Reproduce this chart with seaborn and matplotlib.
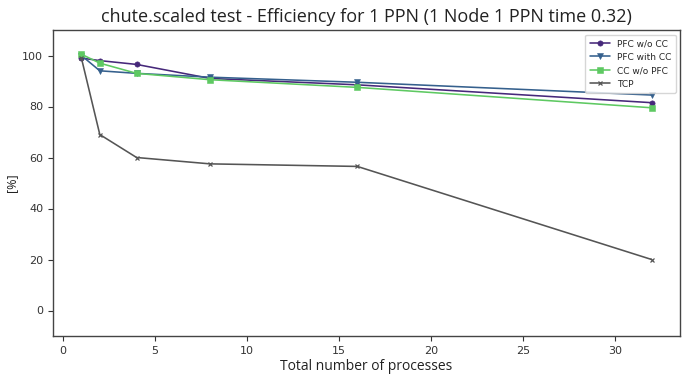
import matplotlib
matplotlib.use("Agg")
import matplotlib.pyplot as plt
import seaborn as sns
import pandas as pd

processes = [1, 2, 4, 8, 16, 32]
pfc_wo_cc = [99.0, 98.0, 96.5, 91.0, 88.5, 81.5]
pfc_with_cc = [100.0, 94.0, 93.0, 91.5, 89.5, 84.5]
cc_wo_pfc = [100.5, 97.0, 93.0, 90.5, 87.5, 79.5]
tcp = [99.0, 69.0, 60.0, 57.5, 56.5, 20.0]

series_names = ["PFC w/o CC", "PFC with CC", "CC w/o PFC", "TCP"]
series_values = [pfc_wo_cc, pfc_with_cc, cc_wo_pfc, tcp]
colors = ["#46287a", "#35608d", "#5ec962", "#555555"]
markers = ["o", "v", "s", "x"]

df = pd.DataFrame(
    [(p, v, name) for name, vals in zip(series_names, series_values) for p, v in zip(processes, vals)],
    columns=["processes", "efficiency", "series"],
)

sns.set_style("ticks")
plt.rcParams["font.family"] = ["DejaVu Sans"]

fig = plt.figure(figsize=(6.87, 3.75), dpi=100)
ax = fig.add_axes([0.077, 0.104, 0.913, 0.816])

for name, color, marker in zip(series_names, colors, markers):
    sub = df[df["series"] == name]
    sns.lineplot(
        data=sub, x="processes", y="efficiency", ax=ax, color=color,
        marker=marker, markersize=3 if marker == "x" else 3.8,
        markeredgewidth=0.9 if marker == "x" else 0.4,
        markeredgecolor=color, linewidth=1.15, label=name,
    )

ax.set_ylim(-10, 110)
ax.set_yticks([0, 20, 40, 60, 80, 100])
ax.set_xticks([0, 5, 10, 15, 20, 25, 30])
ax.tick_params(labelsize=8, colors="#333333", length=3.5)
for s in ax.spines.values():
    s.set_color("#444444")
    s.set_linewidth(1.0)

ax.set_xlabel("Total number of processes", fontsize=10, family="Open Sans", color="#222222", labelpad=2)
ax.set_ylabel("[%]", fontsize=9, family="Open Sans", color="#222222", labelpad=3)
ax.set_title("chute.scaled test - Efficiency for 1 PPN (1 Node 1 PPN time 0.32)",
             fontsize=13, family="Open Sans", color="#222222", pad=6)

leg = ax.legend(loc="upper right", fontsize=6.5, frameon=True, handlelength=2.2,
                borderpad=0.5, labelspacing=0.5)
leg.get_frame().set_edgecolor("#cccccc")

fig.savefig("out.png", dpi=100)
